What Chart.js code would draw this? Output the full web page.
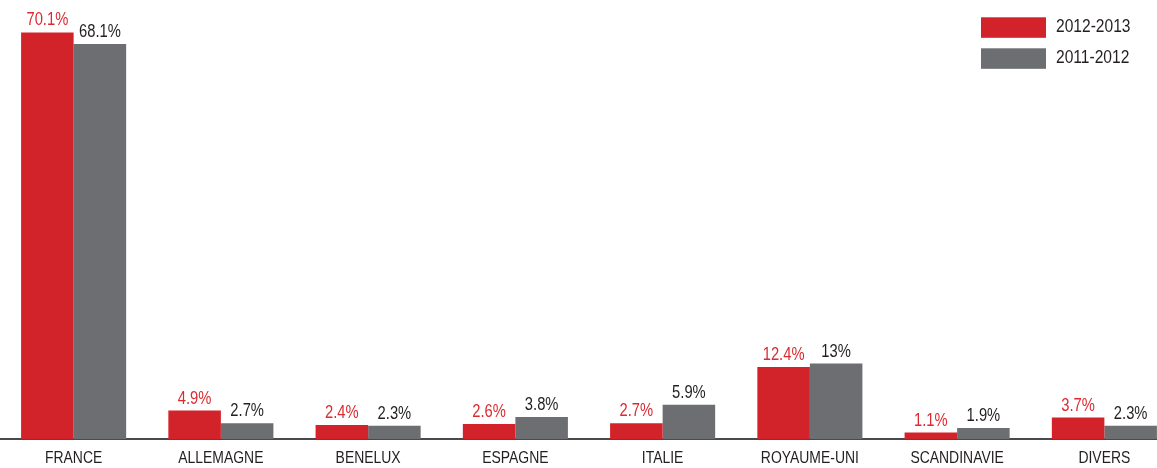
<!DOCTYPE html>
<html>
<head>
<meta charset="utf-8">
<script src="https://cdn.jsdelivr.net/npm/chart.js@4.4.1/dist/chart.umd.min.js"></script>
<style>
  html, body { margin: 0; padding: 0; background: #ffffff; overflow: hidden; }
  #wrap { position: relative; width: 1157px; height: 468px; overflow: hidden; }
  #c { display: block; }
</style>
</head>
<body>
<div id="wrap"><canvas id="c" width="1178" height="468"></canvas></div>
<script>
const categories = ['FRANCE', 'ALLEMAGNE', 'BENELUX', 'ESPAGNE', 'ITALIE', 'ROYAUME-UNI', 'SCANDINAVIE', 'DIVERS'];
const seriesNames = ['2012-2013', '2011-2012'];
const values20122013 = [70.1, 4.9, 2.4, 2.6, 2.7, 12.4, 1.1, 3.7];
const values20112012 = [68.1, 2.7, 2.3, 3.8, 5.9, 13, 1.9, 2.3];

const FONT = "'Liberation Sans', Arial, sans-serif";
const SQUEEZE = 0.82;
const RED = '#d2232a';
const GRAY = '#6d6e71';
const labelColors = ['#dc2a31', '#231f20'];

function condensedText(ctx, text, x, y, align) {
  ctx.save();
  ctx.translate(x, y);
  ctx.scale(SQUEEZE, 1);
  ctx.textAlign = align;
  ctx.textBaseline = 'alphabetic';
  ctx.fillText(text, 0, 0);
  ctx.restore();
}

const valueLabels = {
  id: 'valueLabels',
  afterDatasetsDraw(chart) {
    const ctx = chart.ctx;
    ctx.save();
    ctx.font = '18px ' + FONT;
    chart.data.datasets.forEach((ds, di) => {
      const meta = chart.getDatasetMeta(di);
      ctx.fillStyle = labelColors[di];
      meta.data.forEach((el, i) => {
        condensedText(ctx, ds.data[i] + '%', el.x, el.y - 7, 'center');
      });
    });
    ctx.restore();
  }
};

const categoryLabels = {
  id: 'categoryLabels',
  afterDraw(chart) {
    const ctx = chart.ctx;
    const xs = chart.scales.x;
    ctx.save();
    ctx.font = '17px ' + FONT;
    ctx.fillStyle = '#231f20';
    chart.data.labels.forEach((lab, i) => {
      condensedText(ctx, lab, xs.getPixelForValue(i), 462.5, 'center');
    });
    ctx.restore();
  }
};

const cornerLegend = {
  id: 'cornerLegend',
  afterDraw(chart) {
    const ctx = chart.ctx;
    ctx.save();
    ctx.font = '19px ' + FONT;
    chart.data.datasets.forEach((ds, di) => {
      const top = 17.3 + di * 31;
      ctx.fillStyle = ds.backgroundColor;
      ctx.fillRect(981, top, 65, 20.5);
      ctx.fillStyle = '#231f20';
      condensedText(ctx, ds.label, 1056, top + 14.5, 'left');
    });
    ctx.restore();
  }
};

new Chart(document.getElementById('c'), {
  type: 'bar',
  data: {
    labels: categories,
    datasets: [
      { label: seriesNames[0], data: values20122013, backgroundColor: RED },
      { label: seriesNames[1], data: values20112012, backgroundColor: GRAY }
    ]
  },
  options: {
    responsive: false,
    animation: false,
    devicePixelRatio: 1,
    layout: { padding: { top: 4, left: 0, right: 0, bottom: 0 } },
    datasets: { bar: { categoryPercentage: 0.7135, barPercentage: 1.0 } },
    plugins: { legend: { display: false }, tooltip: { enabled: false } },
    scales: {
      x: {
        grid: { display: false, drawTicks: false },
        border: { display: true, color: '#4a4a4c', width: 2 },
        ticks: { display: false },
        afterFit(scale) { scale.height = 29; }
      },
      y: {
        display: false,
        min: 0,
        max: 75
      }
    }
  },
  plugins: [valueLabels, categoryLabels, cornerLegend]
});
</script>
</body>
</html>
